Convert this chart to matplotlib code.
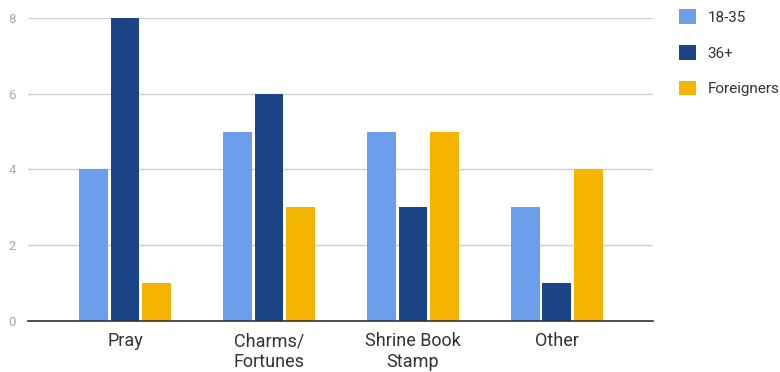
import matplotlib
matplotlib.use("Agg")
import matplotlib.pyplot as plt
import numpy as np

categories = ["Pray", "Charms/\nFortunes", "Shrine Book\nStamp", "Other"]
series_names = ["18-35", "36+", "Foreigners"]
age_18_35 = [4, 5, 5, 3]
age_36_plus = [8, 6, 3, 1]
foreigners = [1, 3, 5, 4]
colors = ["#6d9eeb", "#1c4587", "#f4b400"]
yticks = [0, 2, 4, 6, 8]

plt.rcParams['font.family'] = ['Roboto', 'DejaVu Sans']

fig = plt.figure(figsize=(7.8, 3.72), dpi=100)
ax = fig.add_axes([0.036, 0.137, 0.801, 0.815])

x = np.arange(len(categories))
width = 0.2
pitch = 0.218
for i, (vals, name, c) in enumerate(zip([age_18_35, age_36_plus, foreigners], series_names, colors)):
    ax.bar(x + (i - 1) * pitch, vals, width, color=c, label=name, zorder=3, clip_on=False)

ax.set_xlim(-0.674, 3.667)
ax.set_ylim(0, 8)
ax.set_yticks(yticks)
ax.set_yticklabels([str(t) for t in yticks], color="#aaaaaa", fontsize=9.5)
ax.set_xticks(x)
ax.set_xticklabels(categories, fontsize=13, color="#333333", linespacing=1.18)
ax.tick_params(axis="both", length=0)
ax.tick_params(axis="x", pad=8)
ax.tick_params(axis="y", pad=9)
ax.grid(axis="y", color="#d0d0d0", linewidth=1, zorder=0)
for s in ["top", "right", "left"]:
    ax.spines[s].set_visible(False)
ax.spines["bottom"].set_color("#333333")
ax.spines["bottom"].set_linewidth(1.2)
ax.spines["bottom"].set_zorder(4)

leg = ax.legend(loc="upper left", bbox_to_anchor=(1.042, 1.028), frameon=False,
                fontsize=11, handlelength=1.1, handleheight=1.1, handletextpad=0.75,
                labelspacing=1.32, borderaxespad=0, borderpad=0)
for t in leg.get_texts():
    t.set_color("#333333")

fig.savefig("out.png", dpi=100)
